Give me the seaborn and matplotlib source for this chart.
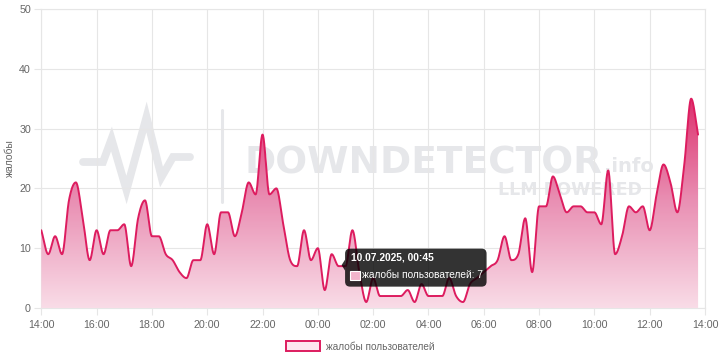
import numpy as np
import pandas as pd
import matplotlib
matplotlib.use("Agg")
import matplotlib.pyplot as plt
import seaborn as sns
import matplotlib.transforms as mtrans
from matplotlib.patches import FancyBboxPatch, Rectangle, Polygon, Patch
from matplotlib.lines import Line2D
from matplotlib.colors import LinearSegmentedColormap

# ---------------- data ----------------
start_time = "2025-07-09 14:00"
complaints = [
    13, 9, 12, 9, 18, 21, 15, 8,      # 14:00-15:45
    13, 9, 13, 13, 14, 7, 15, 18,     # 16:00-17:45
    12, 12, 9, 8, 6, 5, 8, 8,         # 18:00-19:45
    14, 9, 16, 16, 12, 16, 21, 19,    # 20:00-21:45
    29, 19, 20, 14, 8, 7, 13, 8,      # 22:00-23:45
    10, 3, 9, 7, 7, 13, 6, 1,         # 00:00-01:45
    5, 2, 2, 2, 2, 3, 1, 4,           # 02:00-03:45
    2, 2, 2, 5, 2, 1, 4, 5,           # 04:00-05:45
    6, 7, 8, 12, 8, 9, 15, 6,         # 06:00-07:45
    17, 17, 22, 19, 16, 17, 17, 16,   # 08:00-09:45
    16, 14, 23, 9, 12, 17, 16, 17,    # 10:00-11:45
    13, 19, 24, 21, 16, 24, 35, 29,   # 12:00-13:45
]
x_tick_hours = [0, 2, 4, 6, 8, 10, 12, 14, 16, 18, 20, 22, 24]
x_tick_labels = ["14:00", "16:00", "18:00", "20:00", "22:00", "00:00", "02:00",
                 "04:00", "06:00", "08:00", "10:00", "12:00", "14:00"]
y_ticks = [0, 10, 20, 30, 40, 50]
y_label = "жалобы"
series_label = "жалобы пользователей"
tooltip_title = "10.07.2025, 00:45"
tooltip_index = 43

times = pd.date_range(start_time, periods=len(complaints), freq="15min")
hours = ((times - times[0]) / pd.Timedelta(hours=1)).to_numpy(dtype=float)
values = np.array(complaints, dtype=float)


def monotone_curve(x, y, samples=24):
    n = len(x)
    dx = np.diff(x)
    delta = np.diff(y) / dx
    m = np.zeros(n)
    for i in range(n):
        if i == 0:
            m[i] = delta[0]
        elif i == n - 1:
            m[i] = delta[-1]
        elif np.sign(delta[i - 1]) != np.sign(delta[i]):
            m[i] = 0.0
        else:
            m[i] = (delta[i - 1] + delta[i]) / 2
    for i in range(n - 1):
        if abs(delta[i]) < 1e-12:
            m[i] = m[i + 1] = 0.0
            continue
        a = m[i] / delta[i]
        b = m[i + 1] / delta[i]
        s = a * a + b * b
        if s > 9:
            t = 3 / np.sqrt(s)
            m[i] = a * t * delta[i]
            m[i + 1] = b * t * delta[i]
    xs, ys = [], []
    for i in range(n - 1):
        t = np.linspace(0, 1, samples, endpoint=False)
        h = dx[i]
        h00 = 2 * t**3 - 3 * t**2 + 1
        h10 = t**3 - 2 * t**2 + t
        h01 = -2 * t**3 + 3 * t**2
        h11 = t**3 - t**2
        xs.append(x[i] + t * h)
        ys.append(h00 * y[i] + h10 * h * m[i] + h01 * y[i + 1] + h11 * h * m[i + 1])
    xs.append([x[-1]])
    ys.append([y[-1]])
    return np.concatenate(xs), np.concatenate(ys)


# ---------------- style ----------------
sns.set_theme(style="white")
plt.rcParams["font.family"] = ["Liberation Sans", "DejaVu Sans"]

LINE = "#dd1c5f"
GRID = "#e6e6e6"
TXT = "#666666"
WM = "#e6e7ea"

W, H = 720, 360
fig = plt.figure(figsize=(7.2, 3.6), dpi=100)
fig.patch.set_facecolor("white")


def F(x, y):
    return (x / W, 1 - y / H)


# ---------------- watermark ----------------
px = [83, 103, 111.5, 126.5, 146.5, 161.5, 173, 190]
py = [162, 162, 139, 190, 117, 177, 157, 157]
fx, fy = zip(*[F(a, b) for a, b in zip(px, py)])
fig.add_artist(Line2D(fx, fy, transform=fig.transFigure, color=WM, lw=5.6,
                      solid_joinstyle="miter", zorder=-2))
fx, fy = zip(F(222, 110), F(222, 202))
fig.add_artist(Line2D(fx, fy, transform=fig.transFigure, color=WM, lw=2.2, zorder=-2))
fig.text(*F(245, 173), "DOWNDETECTOR", fontsize=27, fontweight="bold",
         family="DejaVu Sans", color=WM, va="baseline", ha="left", zorder=-2)
fig.text(*F(604, 172), ".info", fontsize=14, fontweight="bold",
         family="DejaVu Sans", color=WM, va="baseline", ha="left", zorder=-2)
fig.text(*F(498, 195), "LLM POWERED", fontsize=12.5, fontweight="bold",
         family="DejaVu Sans", color=WM, va="baseline", ha="left", zorder=-2)

# ---------------- axes ----------------
ax = fig.add_axes([41.3 / W, 52 / H, (705 - 41.3) / W, 299 / H])
ax.set_facecolor("none")

xs, ys = monotone_curve(hours, values)
curve = pd.DataFrame({"hour": xs, "value": ys})

poly = ax.fill_between(xs, ys, 0, facecolor="none", edgecolor="none")
cmap = LinearSegmentedColormap.from_list("pinkgrad", ["#f9dce7", "#e98fb3", "#dc2a69"])
grad = np.linspace(0, 50, 400).reshape(-1, 1)
im = ax.imshow(grad, extent=[0, 24, 0, 50], origin="lower", aspect="auto",
               cmap=cmap, vmin=0, vmax=36, zorder=3, interpolation="bilinear")
im.set_clip_path(poly.get_paths()[0], transform=ax.transData)

sns.lineplot(data=curve, x="hour", y="value", ax=ax, color=LINE, lw=1.4,
             sort=False, estimator=None, zorder=4)

ax.set_xlim(0, 24)
ax.set_ylim(0, 50)
ax.set_xticks(x_tick_hours)
ax.set_xticklabels(x_tick_labels)
ax.set_yticks(y_ticks)
ax.grid(True, color=GRID, lw=0.8)
ax.set_axisbelow(True)
for s in ax.spines.values():
    s.set_color(GRID)
    s.set_linewidth(0.8)
ax.tick_params(axis="both", length=5, width=0.8, color=GRID, labelcolor=TXT,
               labelsize=7.7, pad=2.5, bottom=True, left=True)
ax.tick_params(axis="x", pad=3.5)
ax.set_xlabel("")
ax.set_ylabel(y_label, fontsize=7.5, color=TXT, labelpad=3)

# ---------------- tooltip ----------------
tx, ty = hours[tooltip_index], values[tooltip_index]
anchor = mtrans.Affine2D() + mtrans.ScaledTranslation(tx, ty, ax.transData)
ax.add_patch(FancyBboxPatch((6.5, -20.5), 141.5, 38, boxstyle="round,pad=0,rounding_size=5",
                            transform=anchor, facecolor="black", alpha=0.8,
                            edgecolor="none", zorder=10, clip_on=False))
ax.add_patch(Polygon([(3, 1), (6.5, 6.5), (6.5, -4.5)], closed=True, transform=anchor,
                     facecolor="black", alpha=0.8, edgecolor="none", zorder=10, clip_on=False))
ax.add_patch(Rectangle((11.5, -13.5), 10, 9, transform=anchor, facecolor="#f2b4cb",
                       edgecolor="white", lw=0.8, zorder=11, clip_on=False))
ax.annotate(tooltip_title, (tx, ty), xytext=(12, 9), textcoords="offset pixels",
            color="white", fontsize=7.4, fontweight="bold", va="center", ha="left",
            zorder=12, annotation_clip=False)
ax.annotate(f"{series_label}: {int(values[tooltip_index])}", (tx, ty), xytext=(23.5, -9),
            textcoords="offset pixels", color="white", fontsize=7.3, va="center",
            ha="left", zorder=12, annotation_clip=False)

# ---------------- legend ----------------
handle = Patch(facecolor="#fde7ef", edgecolor=LINE, linewidth=1.4)
fig.legend([handle], [series_label], loc="center", bbox_to_anchor=(0.5, 1 - 346.5 / H),
           frameon=False, fontsize=7.2, labelcolor=TXT, handlelength=3.4,
           handleheight=1.1, handletextpad=0.6, borderpad=0, borderaxespad=0)

fig.savefig("out.png", dpi=100)
